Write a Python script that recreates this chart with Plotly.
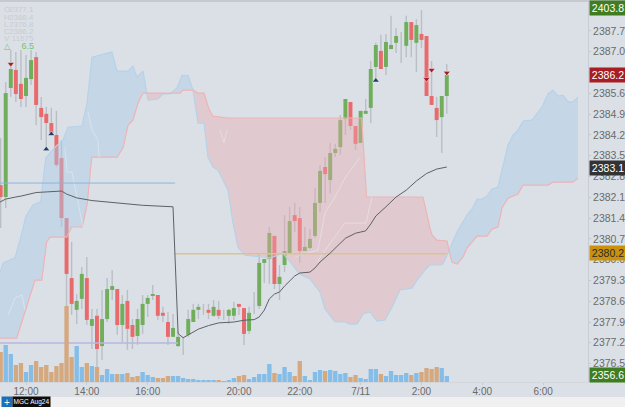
import plotly.graph_objects as go

# 10-minute bars, numbered along the session axis
opens = [2382.51,2382.11,2385.78,2386.39,2385.92,2385.51,2386.08,2386.82,2385.11,2384.91,2384.60,2384.20,2383.42,2381.40,2379.38,2378.31,2378.68,2379.38,2377.77,2378.11,
         2377.09,2378.00,2378.98,2379.01,2377.80,2378.61,2377.80,2377.43,2377.80,2378.51,2378.78,2378.81,2378.21,2377.90,2377.40,2377.09,2377.40,2377.47,2377.90,2378.31,
         2378.34,2378.31,2378.11,2378.31,2378.14,2378.11,2378.11,2378.51,2378.37,2377.60,2378.50,2378.44,2379.89,2380.02,2380.80,2379.18,2379.82,2380.19,2381.50,2381.40,
         2380.29,2380.39,2380.80,2381.91,2383.12,2382.68,2383.59,2383.79,2384.74,2385.31,2384.50,2383.93,2384.91,2385.11,2386.49,2387.03,2386.49,2387.09,2387.30,2387.13,
         2387.20,2388.00,2387.30,2387.60,2387.53,2385.51,2385.11,2384.80,2385.51]
highs = [2384.10,2385.98,2387.06,2386.99,2387.06,2386.89,2387.06,2386.99,2385.48,2385.14,2385.11,2385.01,2384.03,2381.40,2380.60,2378.84,2379.75,2380.09,2378.34,2378.34,
         2378.98,2379.38,2379.65,2379.01,2378.81,2378.98,2378.00,2378.34,2378.81,2378.81,2379.15,2378.81,2378.41,2378.24,2378.17,2377.57,2377.40,2378.31,2378.51,2378.51,
         2378.51,2378.51,2378.64,2378.61,2378.31,2378.34,2378.58,2378.51,2378.37,2378.41,2378.91,2380.16,2380.02,2381.10,2380.80,2379.82,2381.50,2381.77,2381.91,2381.77,
         2381.10,2381.03,2382.41,2383.19,2383.46,2383.93,2383.90,2384.87,2385.41,2385.31,2384.50,2385.01,2385.41,2386.69,2387.30,2387.57,2387.60,2388.21,2387.80,2387.67,
         2388.21,2388.00,2388.10,2388.41,2387.53,2386.69,2385.48,2385.51,2386.59]
lows = [2381.07,2381.74,2385.48,2385.31,2385.14,2385.14,2385.88,2384.53,2384.03,2383.76,2384.20,2383.12,2381.10,2377.90,2378.14,2377.83,2378.34,2377.80,2376.99,2376.15,
        2376.62,2377.90,2378.64,2377.47,2377.23,2376.96,2376.99,2377.13,2377.50,2378.07,2378.64,2377.97,2377.90,2377.13,2377.40,2377.06,2376.79,2377.40,2377.90,2378.00,
        2378.14,2378.00,2378.07,2378.00,2377.97,2377.83,2377.97,2378.14,2377.13,2377.50,2378.17,2378.34,2379.21,2379.18,2379.01,2378.64,2379.58,2380.19,2380.93,2379.89,
        2380.29,2380.36,2380.73,2381.60,2381.91,2382.24,2383.46,2383.53,2384.20,2384.37,2383.69,2383.93,2384.91,2384.60,2386.05,2386.42,2386.22,2387.09,2386.96,2386.62,
        2386.82,2386.82,2386.32,2387.13,2385.51,2385.21,2384.13,2383.59,2384.91]
closes = [2382.11,2385.61,2386.42,2385.58,2385.41,2386.12,2386.72,2385.21,2384.80,2384.60,2384.27,2383.19,2381.40,2379.52,2378.51,2378.61,2379.52,2377.97,2378.00,2376.99,
          2378.00,2379.01,2379.11,2377.80,2378.51,2377.67,2377.40,2378.00,2378.51,2378.71,2378.81,2378.11,2378.11,2377.40,2377.70,2377.40,2377.40,2378.00,2378.31,2378.41,
          2378.34,2378.21,2378.41,2378.11,2378.14,2378.31,2378.37,2378.41,2377.50,2378.21,2378.50,2379.89,2380.02,2380.90,2379.18,2379.42,2380.29,2381.30,2381.30,2380.29,
          2380.43,2380.70,2381.91,2382.99,2382.88,2383.59,2383.73,2384.70,2385.41,2384.50,2383.90,2385.01,2385.01,2386.42,2387.23,2386.42,2387.33,2387.23,2387.53,2387.13,
          2388.00,2387.40,2387.90,2387.40,2385.51,2385.21,2384.70,2385.51,2386.22]

volumes = [3000,3700,2800,1700,1900,1000,1700,2100,1500,1700,1000,1600,1900,7600,2500,3600,1500,1900,1600,1500,
           700,1300,800,800,800,900,500,600,1000,700,500,400,400,600,600,600,400,300,300,200,
           200,200,200,200,100,200,400,600,700,300,500,800,800,1800,900,800,1500,1000,600,2100,
           600,200,1000,1200,1100,1200,1100,800,900,500,700,400,300,1300,1300,800,600,1100,700,700,
           900,700,900,1000,1400,1300,1500,1400,600]
volume_is_tan = [1,0,0,1,1,0,0,1,1,1,1,1,1,1,1,0,0,1,0,1,
                 0,0,0,1,0,1,1,1,0,0,0,1,1,1,0,0,0,0,0,0,
                 0,0,0,1,0,0,0,1,1,0,0,0,0,0,1,0,0,0,1,1,
                 0,0,0,0,1,0,0,0,0,1,1,0,0,0,0,1,0,0,0,0,
                 0,1,0,1,1,1,1,0,0]

sma_index = [-0.13,1,3,4,7,10,12,13,15,18,23,28,34,35,36,37,38,39,41,43,46,48,50,51,52,53,54,55,56,57,58,59,61,62,63,65,66,68,70,72,73,74,76,78,80,82,84,86,88]
sma_value = [2381.94,2382.04,2382.11,2382.14,2382.26,2382.30,2382.31,2382.21,2382.08,2381.99,2381.90,2381.83,2381.78,2377.51,2377.37,2377.46,2377.56,2377.66,2377.78,2377.87,
             2377.90,2377.96,2377.98,2378.07,2378.30,2378.68,2378.84,2378.91,2379.11,2379.28,2379.45,2379.55,2379.58,2379.72,2379.92,2380.22,2380.39,2380.72,2380.89,2380.97,
             2381.20,2381.47,2381.78,2382.11,2382.34,2382.65,2382.90,2383.05,2383.12]

# Ichimoku leading spans
span_a_index = [-0.13,0.52,2.83,3.82,5.0,6.38,7.9,8.89,10.72,12.3,13.28,16.04,17.03,18.02,19.6,21.96,22.95,25.12,26.1,26.89,28.08,28.83,29.06,31.03,32.02,33.4,33.6,34.78,35.77,36.95,37.94,
                38.93,40.11,40.9,41.88,42.87,44.84,45.83,46.81,48.2,51.74,53.1,55.69,58.06,59.04,61.0,62.99,63.97,65.95,67.92,68.9,70.3,71.47,72.85,74.23,75.81,77.19,78.77,81.13,82.12,83.7,84.68,87.05,87.64,88.43,
                90.01,91.98,92.97,93.96,94.94,95.93,96.91,98.1,100.07,101.06,102.04,103.03,104.8,106.78,107.96,108.94,109.93,110.92,111.9,112.89,113.88]
span_a_value = [2379.58,2379.89,2380.06,2380.66,2381.47,2381.84,2381.95,2383.42,2383.79,2384.03,2384.46,2384.50,2385.27,2386.82,2386.89,2386.99,2386.35,2386.35,2386.52,2386.15,2386.35,2385.61,2385.37,2385.41,2385.58,2385.58,2385.61,2385.78,2386.21,2386.21,2385.71,
                2384.60,2384.60,2383.45,2383.12,2383.02,2382.34,2381.23,2380.42,2380.15,2380.09,2380.05,2380.22,2379.72,2379.51,2379.35,2378.91,2378.34,2377.90,2377.90,2377.83,2377.83,2378.17,2378.24,2377.93,2377.97,2378.40,2378.98,2379.04,2379.31,2379.65,2379.82,2379.82,2379.99,2380.32,
                2380.93,2381.50,2381.70,2382.04,2382.04,2382.14,2382.38,2382.44,2383.86,2384.19,2384.36,2384.67,2384.70,2385.14,2385.58,2385.71,2385.51,2385.54,2385.31,2385.31,2385.47]
span_b_index = [-0.13,3.17,6.78,8.1,9.08,9.73,13.03,14.01,16.1,17.09,17.96,23.01,24.19,25.12,26.1,27.09,28.08,28.83,33.6,35.38,35.97,37.94,
                38.93,40.11,41.09,41.88,44.84,71.21,72.16,83.3,84.68,85.08,86.07,88.04,88.43,
                89.02,90.01,91.2,91.98,93.96,95.93,96.91,98.1,98.89,100.07,102.04,103.03,107.96,108.94,112.89,113.88]
span_b_value = [2377.36,2377.36,2379.31,2379.31,2380.60,2380.76,2380.76,2381.10,2381.10,2381.90,2383.45,2383.45,2383.79,2384.53,2384.70,2385.27,2385.61,2385.61,2385.61,2385.61,2385.71,2385.71,
                2385.61,2385.61,2385.07,2384.83,2384.77,2384.77,2382.11,2382.11,2381.06,2380.83,2380.66,2380.63,2380.32,
                2379.92,2379.85,2380.09,2380.39,2380.79,2380.79,2381.03,2381.10,2381.74,2382.07,2382.21,2382.51,2382.51,2382.61,2382.61,2382.75]
span_crossings = [-0.13,28.83,33.6,37.94,88.43,113.88]
span_bullish = [True,False,True,False,True]

# Conversion line fragments, None breaks the path
conversion_index = [1.45,2.83,4.21,4.8,None,12.69,13.09,14.07,16.24,None,17.23,18.02,19.2,19.4,None,43.26,44.05,44.64,None,58.06,59.04,62.59,63.97,65.95,67.92,70.88,None,62.4,63.58,67.92,72.06,73.24]
conversion_value = [2378.13,2378.71,2378.81,2378.30,None,2383.79,2382.95,2382.95,2381.10,None,2384.97,2384.36,2384.03,2383.45,None,2384.37,2383.93,2384.37,None,2380.05,2380.16,2380.32,2381.57,2382.11,2382.75,2383.45,None,2379.92,2380.22,2381.23,2381.23,2382.11]

sell_index = [2,84,85,88]
sell_price = [2386.59,2386.08,2386.39,2386.29]
buy_index = [9,10,74]
buy_price = [2383.72,2384.23,2386.03]

level_blue = 2382.58
level_purple = 2377.19
level_tan = 2380.2

price_ticks = [2387.7,2387.0,2386.3,2385.6,2384.9,2384.2,2383.5,2382.8,2382.1,2381.4,2380.7,2380.0,2379.3,2378.6,2377.9,2377.2,2376.5]
time_tick_index = [5,17,29,47,59,71,83,95,107]
time_tick_label = ["12:00","14:00","16:00","20:00","22:00","7/11","2:00","4:00","6:00"]
readout_keys = ["O","H","L","C","V"]
readout_values = ["2377.1","2388.4","2376.8","2386.2","11675"]

BG = "#dbe0e6"
GREEN = "#70ae5b"
RED = "#e96a6c"
BLUE_FILL = "rgba(170,204,232,0.45)"
PINK_FILL = "rgba(232,170,175,0.40)"
FONT = "Liberation Sans"

fig = go.Figure()
bars = list(range(len(opens)))

# Wicks, then bodies
fig.add_trace(go.Bar(x=bars, y=[h - l for h, l in zip(highs, lows)], base=lows, width=0.28,
                     marker=dict(color="rgba(175,180,186,0.75)", line_width=0)))
for rising, colour in ((True, GREEN), (False, RED)):
    idx = [i for i in bars if (closes[i] >= opens[i]) == rising]
    fig.add_trace(go.Bar(x=idx,
                         y=[abs(closes[i] - opens[i]) for i in idx],
                         base=[min(opens[i], closes[i]) for i in idx],
                         width=0.78, marker=dict(color=colour, line_width=0)))

# Cloud bands between the two spans, one closed path per crossing interval
for lo, hi, bullish in zip(span_crossings[:-1], span_crossings[1:], span_bullish):
    a = [(x, y) for x, y in zip(span_a_index, span_a_value) if lo <= x <= hi]
    b = [(x, y) for x, y in zip(span_b_index, span_b_value) if lo <= x <= hi]
    ring = a + b[::-1]
    fig.add_trace(go.Scatter(x=[p[0] for p in ring], y=[p[1] for p in ring], mode="lines",
                             fill="toself", fillcolor=BLUE_FILL if bullish else PINK_FILL,
                             line=dict(width=0)))
fig.add_trace(go.Scatter(x=span_a_index, y=span_a_value, mode="lines", line=dict(color="#b6d2e9", width=1.2)))
fig.add_trace(go.Scatter(x=span_b_index, y=span_b_value, mode="lines", line=dict(color="#eeb3b5", width=1.2)))
fig.add_trace(go.Scatter(x=conversion_index, y=conversion_value, mode="lines",
                         line=dict(color="rgba(240,243,246,0.42)", width=1)))

# Horizontal reference levels and the moving average
fig.add_trace(go.Scatter(x=[-0.13, 34.4], y=[level_blue] * 2, mode="lines", line=dict(color="#8db4da", width=1)))
fig.add_trace(go.Scatter(x=[-0.13, 35], y=[level_purple] * 2, mode="lines", line=dict(color="#b9b6de", width=1.5)))
fig.add_trace(go.Scatter(x=[34.4, 88], y=[level_tan] * 2, mode="lines", line=dict(color="#dcc290", width=1.5)))
fig.add_trace(go.Scatter(x=sma_index, y=sma_value, mode="lines", line=dict(color="#5c6166", width=1)))

# Trade signals
fig.add_trace(go.Scatter(x=sell_index, y=sell_price, mode="markers",
                         marker=dict(symbol="triangle-down", size=6, color="#a61c26", line=dict(color="#f2f2f2", width=0.5))))
fig.add_trace(go.Scatter(x=buy_index, y=buy_price, mode="markers",
                         marker=dict(symbol="triangle-up", size=6, color="#1c3f6e", line=dict(color="#f2f2f2", width=0.5))))

# Volume on its own scale along the bottom
for flag, colour in ((0, "#85bde9"), (1, "#d5a97f")):
    idx = [i for i in bars if volume_is_tan[i] == flag]
    fig.add_trace(go.Bar(x=idx, y=[volumes[i] for i in idx], width=0.86, yaxis="y2",
                         marker=dict(color=colour, line_width=0)))

annotations = []
def px_text(text, x, y, colour, size=8, anchor="left", bg=None, **kw):
    annotations.append(dict(text=text, xref="paper", yref="paper", x=x / 588, y=(382 - y) / 381,
                            xanchor=anchor, yanchor="middle", showarrow=False,
                            font=dict(family=FONT, size=size, color=colour), bgcolor=bg, borderpad=0, **kw))

# OHLCV readout
row = 10
for key, value in zip(readout_keys, readout_values):
    px_text(key, 3, row, "#c7ccd2", width=7, height=7, align="left")
    px_text(value, 35, row, "#c7ccd2", anchor="right", width=24, height=7, align="right")
    row += 7.2
px_text("△", 3, 46, "#6fc46f", width=8, height=8, align="left")
px_text("6.5", 35, 46, "#6fc46f", size=9, anchor="right", width=14, height=8, align="right")

# Price flags in the right margin
for label, y, bg, fg in (("2403.8", 8, "#3f7d20", "#ffffff"), ("2386.2", 75.5, "#a81c24", "#ffffff"),
                         ("2383.1", 168, "#333333", "#ffffff"), ("2380.2", 253, "#c9910c", "#2b2b2b"),
                         ("2356.6", 375, "#3f7d20", "#ffffff")):
    px_text(label, 589, y, fg, size=10.5, bg=bg, width=36, height=14, align="center")

# Instrument tab
px_text("+", 1, 402, "#ffffff", size=10, bg="#1c6fb5", width=10, height=10, align="center")
px_text("MGC Aug24", 12, 402, "#ffffff", size=6.5, bg="#0d0d0d", width=37, height=10, align="center")

fig.update_layout(
    width=625, height=407, autosize=False,
    margin=dict(l=0, r=37, t=1, b=25),
    paper_bgcolor=BG, plot_bgcolor=BG,
    showlegend=False, barmode="overlay", hovermode=False,
    annotations=annotations,
    shapes=[
        dict(type="rect", xref="paper", yref="paper", x0=0, x1=625 / 588, y0=-25 / 381, y1=-15 / 381,
             fillcolor="#f0f0f0", line_width=0, layer="below"),
        dict(type="line", xref="paper", yref="paper", x0=0, x1=625 / 588, y0=1.0, y1=1.0,
             line=dict(color="#bfc3c8", width=1.5)),
    ],
    xaxis=dict(range=[-0.128, 115.85], tickmode="array", tickvals=time_tick_index, ticktext=time_tick_label,
               showgrid=False, zeroline=False, showline=True, linecolor="#d3d7dd", linewidth=1,
               ticks="outside", ticklen=2, tickcolor="#c6cad0", ticklabelstandoff=-2,
               tickfont=dict(family=FONT, size=10, color="#6a6a6a")),
    yaxis=dict(range=[2375.88, 2388.71], side="right", tickmode="array", tickvals=price_ticks,
               ticktext=[f"{v:.1f}" for v in price_ticks], showgrid=False, zeroline=False,
               showline=True, linecolor="#c9cdd3", linewidth=1, ticks="outside", ticklen=2, tickcolor="#c6cad0",
               tickfont=dict(family=FONT, size=10.5, color="#6a6a6a")),
    yaxis2=dict(range=[0, 38100], overlaying="y", side="right", visible=False),
)

fig.write_html("out.html")
